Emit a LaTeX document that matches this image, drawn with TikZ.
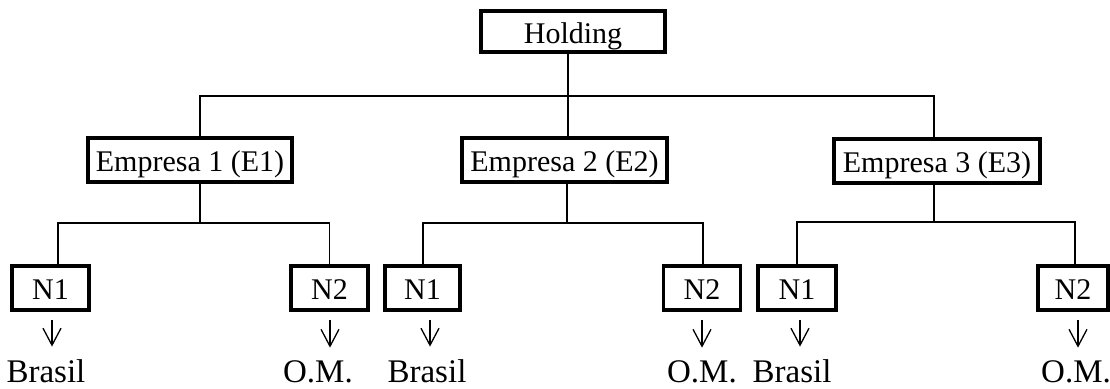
\documentclass[tikz,border=0pt]{standalone}
\usepackage{fontspec}
\setmainfont{Liberation Serif}
\usetikzlibrary{arrows.meta}
\begin{document}
\begin{tikzpicture}[x=1pt, y=-1pt,
  box/.style={draw, line width=3.5pt, inner sep=0pt, outer sep=0pt,
    minimum height=44pt, text height=23pt, text depth=0pt,
    font=\fontsize{30}{36}\selectfont},
  conn/.style={line width=1.5pt},
  arr/.style={line width=1.3pt, -{Straight Barb[length=17pt,width=18pt]},
    shorten <=10pt, shorten >=12.5pt},
  dest/.style={inner sep=0pt, outer sep=0pt, anchor=base,
    font=\fontsize{33}{40}\selectfont}]
\useasboundingbox (0,0) rectangle (1110,388);

% top level
\node[box, minimum width=184pt, minimum height=41pt] (hold) at (573,31.5) {Holding};

% companies
\node[box, minimum width=204pt] (e1) at (190,160) {Empresa 1 (E1)};
\node[box, minimum width=205pt] (e2) at (564.5,160) {Empresa 2 (E2)};
\node[box, minimum width=206pt] (e3) at (937,161) {Empresa 3 (E3)};

% business units
\node[box, minimum width=77pt] (n11) at (50.5,288) {N1};
\node[box, minimum width=77pt] (n12) at (329.5,288) {N2};
\node[box, minimum width=75pt] (n21) at (422.5,288) {N1};
\node[box, minimum width=77pt] (n22) at (702,288) {N2};
\node[box, minimum width=78pt] (n31) at (797,288) {N1};
\node[box, minimum width=70pt] (n32) at (1073,288) {N2};

% markets
\node[dest] (b1) at (46,382) {Brasil};
\node[dest] (m1) at (318,382) {O.M.};
\node[dest] (b2) at (427,382) {Brasil};
\node[dest] (m2) at (702,382) {O.M.};
\node[dest] (b3) at (792,382) {Brasil};
\node[dest] (m3) at (1076,382) {O.M.};

% bus junctions
\coordinate (top) at (568,96);
\coordinate (k1) at (200,223);
\coordinate (k2) at (567,223);
\coordinate (k3) at (934,222);

% holding to companies
\draw[conn] ([xshift=-5pt]hold.south) -- ([xshift=-5pt]hold.south |- e2.north);
\draw[conn] ([xshift=10pt]e1.north) |- (top) -| ([xshift=-3pt]e3.north);

% companies to units
\draw[conn] ([xshift=10pt]e1.south) -- (k1);
\draw[conn] ([xshift=7.5pt]n11.north) |- (k1) -| (n12.north);
\draw[conn] ([xshift=2.5pt]e2.south) -- (k2);
\draw[conn] ([xshift=0.5pt]n21.north) |- (k2) -| ([xshift=1pt]n22.north);
\draw[conn] ([xshift=-3pt]e3.south) -- (k3);
\draw[conn] (n31.north) |- (k3) -| ([xshift=2pt]n32.north);

% units to markets
\draw[arr] ([xshift=1.5pt]n11.south) -- ([xshift=1.5pt]n11.south |- b1.north);
\draw[arr] ([xshift=0.5pt]n12.south) -- ([xshift=0.5pt]n12.south |- m1.north);
\draw[arr] ([xshift=7.5pt]n21.south) -- ([xshift=7.5pt]n21.south |- b2.north);
\draw[arr] (n22.south) -- (n22.south |- m2.north);
\draw[arr] ([xshift=3pt]n31.south) -- ([xshift=3pt]n31.south |- b3.north);
\draw[arr] ([xshift=5pt]n32.south) -- ([xshift=5pt]n32.south |- m3.north);
\end{tikzpicture}
\end{document}
